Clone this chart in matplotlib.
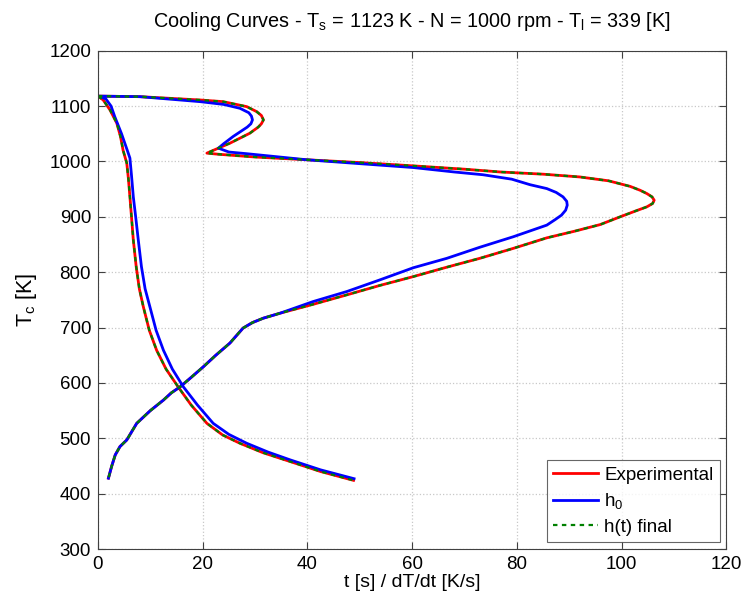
import numpy as np
import matplotlib
matplotlib.use('Agg')
import matplotlib.pyplot as plt

plt.rcParams['font.family'] = ['Liberation Sans', 'DejaVu Sans']

# Experimental: cooling curve (t vs T) and cooling rate curve (dT/dt vs T)
exp_t = [0, 1.0, 2.3, 3.6, 4.3, 4.8, 5.5, 5.8, 6.1, 6.4, 6.75, 7.3, 7.9, 8.65, 9.8,
         11.2, 13.0, 15.3, 17.8, 20.8, 23.8, 27.1, 31.5, 36.7, 42.5, 48.8]
exp_tT = [1118, 1111, 1093, 1069, 1045, 1020, 997, 970, 936, 900, 858, 810, 770, 738, 695,
          659, 625, 593, 560, 527, 506, 491, 474, 458, 440, 424]
exp_q = [0, 8.0, 19.5, 23.9, 28.4, 30.3, 31.2, 31.6, 31.2, 30.6, 29.0, 25.2, 22.5, 20.8,
         23.0, 30.0, 39.9, 50.0, 60.2, 70.0, 76.8, 85.0, 92.0, 97.5, 101.6, 103.5, 104.8,
         105.8, 106.2, 105.9, 104.8, 102.5, 99.7, 95.9, 91.0, 85.7, 79.3, 72.9, 66.6, 60.2,
         53.8, 47.5, 41.1, 34.8, 31.6, 29.5, 27.7, 25.2, 22.5, 20.1, 17.8, 15.7, 14.0,
         12.5, 10.0, 7.4, 5.5, 4.2, 3.3, 2.6, 2.0]
exp_qT = [1118, 1117, 1111, 1108, 1099, 1090, 1083, 1075, 1068, 1062, 1051, 1033, 1022, 1015,
          1013, 1008, 1003, 998, 992, 986, 981, 977, 972, 965, 955, 948, 942,
          936, 930, 924, 918, 910, 900, 886, 874, 862, 843, 825, 809, 792,
          776, 759, 742, 726, 717, 709, 699, 672, 650, 629, 610, 593, 582,
          569, 550, 527, 497, 485, 470, 449, 428]

# h0
h0_t = [0, 1.5, 2.5, 3.2, 4.5, 5.6, 6.1, 6.4, 6.75, 7.2, 7.7, 8.3, 9.0, 9.9, 11.1,
        12.5, 14.2, 16.3, 19.0, 22.0, 25.0, 28.4, 32.5, 36.7, 42.5, 48.9]
h0_tT = [1118, 1113, 1100, 1081, 1050, 1020, 1006, 975, 936, 900, 858, 810, 770, 738, 695,
         659, 625, 593, 560, 527, 507, 491, 475, 461, 443, 427]
h0_q = [0, 8.0, 19.5, 24.0, 27.1, 28.8, 29.3, 29.5, 29.2, 28.5, 25.8, 24.0, 23.0,
        25.0, 28.4, 39.9, 50.0, 60.2, 68.0, 73.5, 79.0, 82.5, 85.7, 87.5, 88.8, 89.5, 89.6,
        89.3, 88.5, 87.3, 85.7, 79.3, 72.9, 66.6, 60.2, 53.8, 47.5, 41.1,
        34.8, 31.6, 29.5, 27.7, 25.2, 22.5, 20.1, 17.8, 15.7, 14.0, 12.5, 10.0, 7.4,
        5.5, 4.2, 3.3, 2.6, 2.0]
h0_qT = [1118, 1117, 1108, 1103, 1096, 1088, 1082, 1075, 1068, 1062, 1045, 1032, 1024,
         1017, 1014, 1003, 996, 989, 981, 976, 968, 958, 951, 944, 936, 928, 921,
         912, 903, 895, 885, 864, 845, 825, 808, 786, 765, 747,
         726, 717, 709, 699, 672, 650, 629, 610, 593, 582, 569, 550, 527,
         497, 485, 470, 449, 428]

# h(t) final (lies on top of the experimental curve)
fin_t = [0, 1.0, 2.3, 3.6, 4.3, 4.8, 5.5, 5.8, 6.1, 6.4, 6.75, 7.3, 7.9, 8.65, 9.8,
         11.2, 13.0, 15.3, 17.8, 20.8, 23.8, 27.1, 31.5, 36.7, 42.5, 48.8]
fin_tT = [1118, 1111, 1093, 1069, 1045, 1020, 997, 970, 936, 900, 858, 810, 770, 738, 695,
          659, 625, 593, 560, 527, 506, 491, 474, 458, 440, 424]
fin_q = [0, 8.0, 19.5, 23.9, 28.4, 30.3, 31.2, 31.6, 31.2, 30.6, 29.0, 25.2, 22.5, 20.8,
         23.0, 30.0, 39.9, 50.0, 60.2, 70.0, 76.8, 85.0, 92.0, 97.5, 101.6, 103.5, 104.8,
         105.8, 106.2, 105.9, 104.8, 102.5, 99.7, 95.9, 91.0, 85.7, 79.3, 72.9, 66.6, 60.2,
         53.8, 47.5, 41.1, 34.8, 31.6, 29.5, 27.7, 25.2, 22.5, 20.1, 17.8, 15.7, 14.0,
         12.5, 10.0, 7.4, 5.5, 4.2, 3.3, 2.6, 2.0]
fin_qT = [1118, 1117, 1111, 1108, 1099, 1090, 1083, 1075, 1068, 1062, 1051, 1033, 1022, 1015,
          1013, 1008, 1003, 998, 992, 986, 981, 977, 972, 965, 955, 948, 942,
          936, 930, 924, 918, 910, 900, 886, 874, 862, 843, 825, 809, 792,
          776, 759, 742, 726, 717, 709, 699, 672, 650, 629, 610, 593, 582,
          569, 550, 527, 497, 485, 470, 449, 428]


def join(a, b, c, d):
    # both curves of one case as a single line, split by a nan
    x = np.concatenate([a, [np.nan], c])
    y = np.concatenate([b, [np.nan], d])
    return x, y


fig = plt.figure(figsize=(7.45, 5.98), dpi=100)
ax = fig.add_axes([0.1315, 0.0819, 0.8436, 0.8333])

x, y = join(exp_t, exp_tT, exp_q, exp_qT)
ax.plot(x, y, color='#ff0000', lw=2, label='Experimental')
x, y = join(h0_t, h0_tT, h0_q, h0_qT)
ax.plot(x, y, color='#0000ff', lw=2, label=r'h$\mathregular{_0}$')
x, y = join(fin_t, fin_tT, fin_q, fin_qT)
ax.plot(x, y, color='#008000', lw=1.6, ls=(0, (2, 2)), label='h(t) final')

ax.set_xlim(0, 120)
ax.set_ylim(300, 1200)
ax.set_xticks(np.arange(0, 121, 20))
ax.set_yticks(np.arange(300, 1201, 100))
ax.grid(True, ls=':', color='#c8c8c8', lw=0.9)
ax.tick_params(direction='in', length=5, labelsize=13.5, top=True, right=True,
               color='#404040', pad=5)
for s in ax.spines.values():
    s.set_color('#404040')

ax.set_title(r'Cooling Curves - T$\mathregular{_s}$ = 1123 K - N = 1000 rpm - T$\mathregular{_l}$ = 339 [K]',
             fontsize=14.3, pad=17)
ax.set_xlabel('t [s] / dT/dt [K/s]', fontsize=14, labelpad=1)
ax.set_ylabel(r'T$\mathregular{_c}$ [K]', fontsize=15.5, labelpad=7)

leg = ax.legend(loc='lower right', fontsize=13.5, frameon=True, fancybox=False,
                borderaxespad=0.35, handlelength=2.4, labelspacing=0.4,
                borderpad=0.35, handletextpad=0.3)
leg.get_frame().set_edgecolor('#404040')
leg.get_frame().set_linewidth(0.8)

plt.savefig('out.png', dpi=100)
